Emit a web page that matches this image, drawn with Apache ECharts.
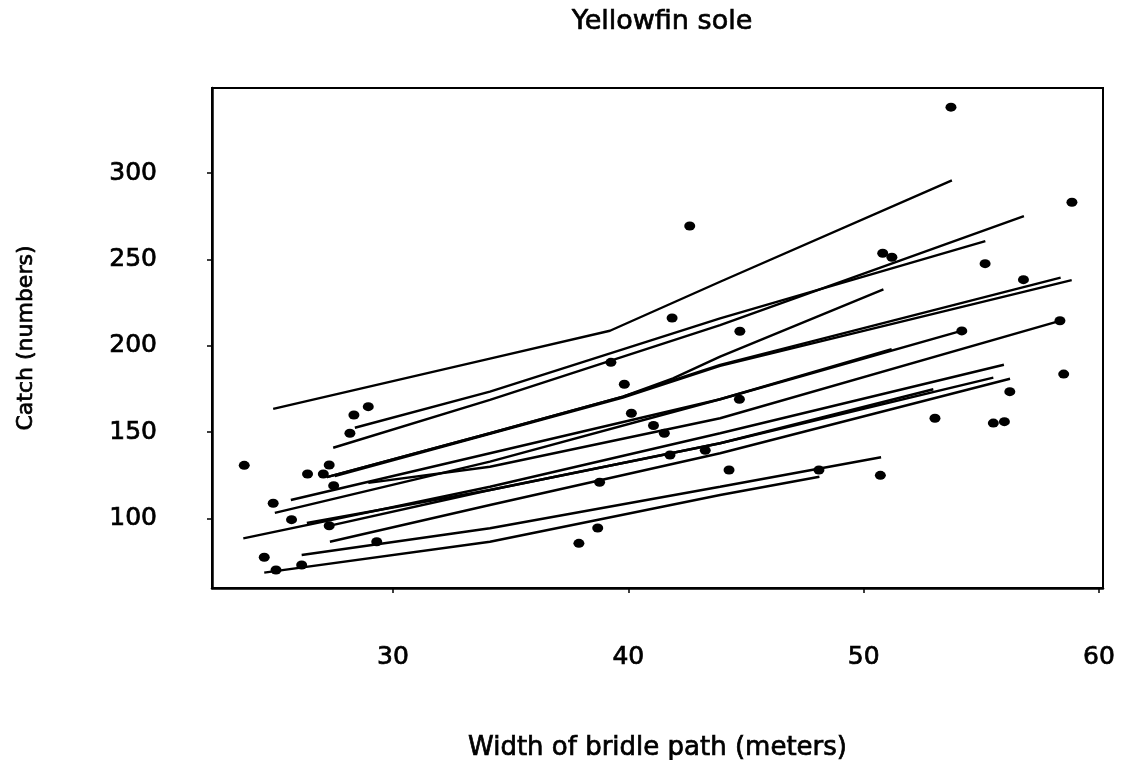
<!DOCTYPE html>
<html>
<head>
<meta charset="utf-8">
<script src="https://cdn.jsdelivr.net/npm/echarts@6/dist/echarts.min.js"></script>
<style>
  html, body { margin: 0; padding: 0; background: #fff; }
  #chart { width: 1121px; height: 760px; }
</style>
</head>
<body>
<div id="chart"></div>
<script>
// ---- data ----
const xTicks = [30, 40, 50, 60];
const yTicks = [100, 150, 200, 250, 300];

const pointWidth = [53.71, 58.85, 42.61, 50.81, 51.20, 55.16, 56.79, 41.86, 44.74, 54.17,
  58.34, 58.50, 56.21, 53.03, 55.51, 55.98, 41.07, 41.53, 44.72, 41.77,
  43.27, 44.28, 48.10, 50.71, 23.68, 24.91, 25.69, 24.53, 25.03, 26.12,
  26.37, 27.04, 27.29, 27.48, 27.29, 28.17, 28.34, 28.95, 29.31, 39.26,
  39.83, 40.13, 38.78, 37.90, 38.70];
const pointCatch = [338.3, 283.2, 269.4, 253.6, 251.3, 247.6, 238.3, 216.1, 208.4, 208.6,
  214.5, 183.6, 173.4, 158.0, 155.2, 156.0, 153.8, 149.3, 169.0, 136.7,
  139.4, 128.0, 128.0, 124.9, 130.7, 108.7, 99.2, 77.4, 70.0, 72.9,
  125.7, 125.7, 130.9, 118.9, 95.7, 149.3, 159.9, 164.7, 86.4, 190.4,
  177.7, 160.9, 120.9, 85.5, 94.4];

// fitted curves: [width, catch] pairs
const fit01 = [[24.91,163.4],[34.12,192.5],[39.22,208.7],[43.90,237.1],[53.75,295.9]];
const fit02 = [[28.38,152.5],[34.12,173.4],[43.90,215.9],[55.17,260.6]];
const fit03 = [[27.46,140.9],[34.12,168.6],[43.90,212.0],[56.81,275.2]];
const fit04 = [[27.19,123.9],[34.12,149.3],[39.77,170.5],[41.90,181.1],[43.90,193.7],[50.84,232.7]];
const fit05 = [[27.19,123.9],[34.12,149.3],[39.77,170.5],[43.90,188.9],[58.37,239.5]];
const fit06 = [[27.53,124.5],[34.12,148.9],[39.77,170.0],[43.90,188.3],[58.84,238.0]];
const fit07 = [[25.66,110.6],[34.12,137.7],[43.90,169.0],[51.19,198.1]];
const fit08 = [[24.98,103.1],[34.12,132.8],[43.90,169.0],[54.15,208.6]];
const fit09 = [[28.95,120.5],[34.12,129.9],[43.90,158.0],[58.34,214.4]];
const fit10 = [[23.64,88.4],[34.12,118.3],[43.90,149.3],[55.96,189.0]];
const fit11 = [[26.34,97.3],[34.12,116.4],[43.90,143.5],[52.96,174.8]];
const fit12 = [[27.28,95.6],[34.12,116.4],[43.90,143.5],[55.51,181.5]];
const fit13 = [[27.32,86.4],[34.12,107.7],[43.90,137.7],[56.22,180.9]];
const fit14 = [[26.12,78.7],[34.12,94.2],[43.90,118.3],[50.74,135.4]];
const fit15 = [[24.53,68.5],[34.12,86.4],[43.90,113.5],[48.12,124.1]];
const fits = [fit01, fit02, fit03, fit04, fit05, fit06, fit07, fit08,
  fit09, fit10, fit11, fit12, fit13, fit14, fit15];

// ---- chart ----
const FONT = 'DejaVu Sans';
const THICK = { textBorderColor: '#000', textBorderWidth: 0.7 };
const chart = echarts.init(document.getElementById('chart'), null, { renderer: 'canvas' });

const series = fits.map(f => ({
  type: 'line',
  data: f,
  showSymbol: false,
  symbol: 'none',
  lineStyle: { color: '#000', width: 2.4 },
  silent: true,
  animation: false,
  z: 2
}));
series.push({
  type: 'scatter',
  data: pointWidth.map((w, i) => [w, pointCatch[i]]),
  symbol: 'circle',
  symbolSize: [11, 9],
  itemStyle: { color: '#000', opacity: 1 },
  animation: false,
  z: 3
});

chart.setOption({
  backgroundColor: '#fff',
  animation: false,
  title: {
    text: 'Yellowfin sole',
    left: 657,
    top: 3,
    textAlign: 'center',
    textStyle: Object.assign({ fontFamily: FONT, fontSize: 27, fontWeight: 'normal', color: '#000' }, THICK)
  },
  grid: {
    left: 212, right: 18, top: 88, bottom: 172,
    outerBoundsMode: 'none',
    containLabel: false,
    show: true, borderColor: '#000', borderWidth: 2, backgroundColor: 'transparent'
  },
  xAxis: {
    type: 'value',
    min: 22.31,
    max: 60.17,
    name: 'Width of bridle path (meters)',
    nameLocation: 'middle',
    nameGap: 147,
    nameTextStyle: Object.assign({ fontFamily: FONT, fontSize: 26, color: '#000' }, THICK),
    axisLine: { show: true, onZero: false, lineStyle: { color: '#000', width: 2.5 } },
    axisTick: { show: true, length: 5, inside: false, customValues: xTicks, lineStyle: { color: '#000', width: 1.5 } },
    axisLabel: Object.assign({ customValues: xTicks, margin: 57, fontFamily: FONT, fontSize: 25, color: '#000' }, THICK),
    splitLine: { show: false }
  },
  yAxis: {
    type: 'value',
    min: 59.6,
    max: 349.4,
    name: 'Catch (numbers)',
    nameLocation: 'middle',
    nameGap: 175,
    nameTextStyle: Object.assign({ fontFamily: FONT, fontSize: 22, color: '#000' }, THICK),
    axisLine: { show: true, onZero: false, lineStyle: { color: '#000', width: 2.5 } },
    axisTick: { show: true, length: 5, inside: false, customValues: yTicks, lineStyle: { color: '#000', width: 1.5 } },
    axisLabel: Object.assign({ customValues: yTicks, margin: 55, fontFamily: FONT, fontSize: 25, color: '#000' }, THICK),
    splitLine: { show: false }
  },
  series: series
});
</script>
</body>
</html>
